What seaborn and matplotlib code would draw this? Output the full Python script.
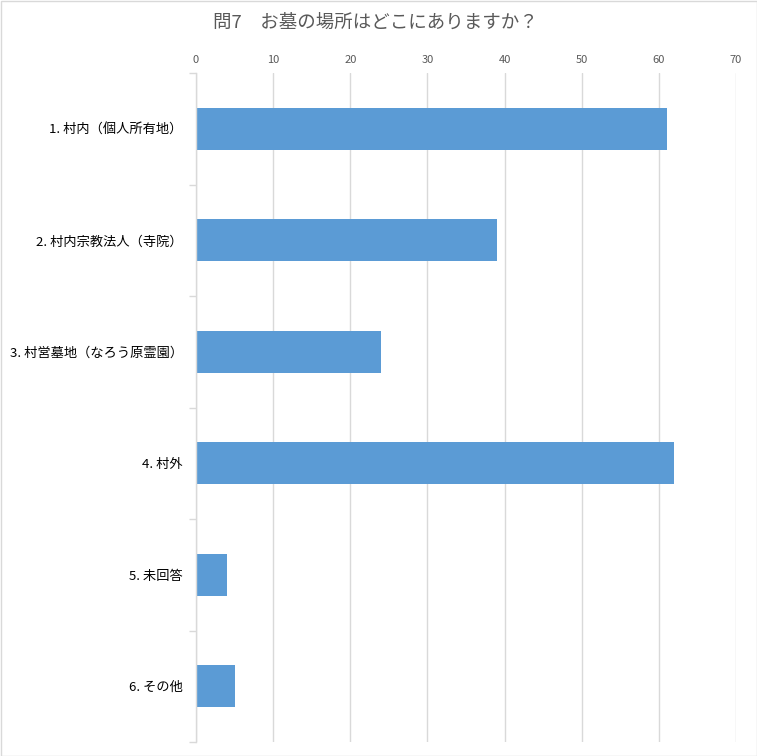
import matplotlib
matplotlib.use("Agg")
import matplotlib.pyplot as plt
import seaborn as sns
import pandas as pd
import numpy as np
from matplotlib.patches import Rectangle

categories = ["1. 村内（個人所有地）", "2. 村内宗教法人（寺院）", "3. 村営墓地（なろう原霊園）",
              "4. 村外", "5. 未回答", "6. その他"]
values = [61, 39, 24, 62, 4, 5]
xticks = [0, 10, 20, 30, 40, 50, 60, 70]
title = "問7　お墓の場所はどこにありますか？"

sns.set_theme(style="white")
plt.rcParams['font.family'] = ['Noto Sans CJK JP', 'DejaVu Sans']

df = pd.DataFrame({"cat": categories, "val": values})

fig = plt.figure(figsize=(7.57, 7.56), dpi=100)
ax = fig.add_axes([196/757, 1-742/756, (736-196)/757, (742-73)/756])

sns.barplot(data=df, x="val", y="cat", orient="h", color="#5B9BD5", width=0.38,
            saturation=1, ax=ax, edgecolor="none")

ax.set_xlim(0, 70)
ax.set_ylim(len(categories)-0.5, -0.5)
ax.set_xticks(xticks)
ax.xaxis.tick_top()
ax.tick_params(axis="x", length=0, labelsize=8, labelcolor="#595959", pad=6)
ax.tick_params(axis="y", which="major", length=0, labelsize=9.5, labelcolor="#000000", pad=9.5)
ax.set_yticks(np.arange(-0.5, len(categories), 1.0), minor=True)
ax.tick_params(axis="y", which="minor", length=5, color="#D9D9D9", width=1, left=True)
ax.grid(axis="x", color="#D9D9D9", linewidth=1)
ax.set_axisbelow(True)
for s in ["top", "right", "bottom"]:
    ax.spines[s].set_visible(False)
ax.spines["left"].set_color("#D9D9D9")
ax.spines["left"].set_linewidth(1)
ax.set_xlabel("")
ax.set_ylabel("")

fig.text(375/757, 1-23/756, title, ha="center", va="center", fontsize=13.3, color="#595959")

fig.patches.append(Rectangle((0.5/757, 0.5/756), 1-1/757, 1-1/756, transform=fig.transFigure,
                             fill=False, edgecolor="#D9D9D9", linewidth=1))

fig.savefig("out.png", dpi=100)
